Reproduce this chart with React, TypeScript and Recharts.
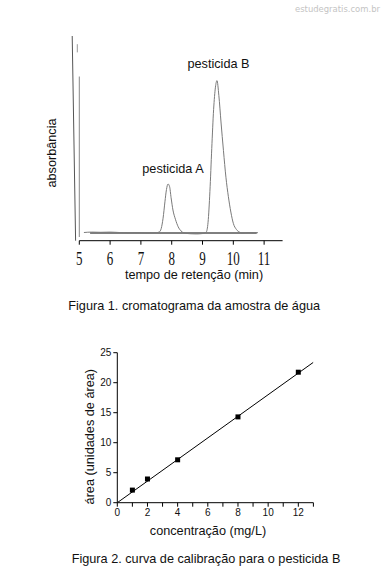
import React from 'react';
import {
  LineChart, Line, XAxis, YAxis, ReferenceLine,
  ScatterChart, Scatter,
} from 'recharts';

// ---- Figure 1: chromatogram ----
const chromTime = [5.15, 5.4, 5.7, 6.0, 6.3, 6.6, 6.9, 7.2, 7.5,
  7.6, 7.66, 7.72, 7.78, 7.83, 7.88, 7.93, 7.98, 8.04, 8.12, 8.21, 8.3, 8.4,
  8.6, 8.8, 9.0,
  9.12, 9.18, 9.24, 9.3, 9.36, 9.42, 9.47, 9.53, 9.6, 9.68, 9.76, 9.84, 9.92, 10.0, 10.1, 10.2, 10.3,
  10.5, 10.8];
const chromAbs = [4.0, 4.2, 4.1, 4.2, 4.0, 3.9, 4.0, 3.8, 3.9,
  4.3, 6, 11, 19, 25, 27.7, 26.5, 21, 15, 10.5, 6.8, 4.8, 3.8,
  3.4, 3.3, 3.5,
  4.2, 9, 24, 45, 64, 75, 78.2, 71, 58, 44, 31, 21.5, 14, 8.5, 5.5, 4.2, 3.8,
  4.0, 3.9];
const timeTicks = [5, 6, 7, 8, 9, 10, 11];
const baselineLevel = 3.76;

// ---- Figure 2: calibration curve ----
const concentrations = [1, 2, 4, 8, 12];
const areas = [2.1, 3.95, 7.15, 14.3, 21.75];
const fitX = [0, 13];
const fitY = [0, 23.4];
const concTicks = [0, 1, 2, 3, 4, 5, 6, 7, 8, 9, 10, 11, 12, 13];
const areaTicks = [0, 5, 10, 15, 20, 25];

const chromData = chromTime.map((t, i) => ({ t, a: chromAbs[i] }));
const calibData = concentrations.map((x, i) => ({ x, y: areas[i] }));
const fitData = fitX.map((x, i) => ({ x, y: fitY[i] }));

const SANS = '"Liberation Sans", Arial, sans-serif';
const SERIF = '"Liberation Serif", "Times New Roman", serif';

const SerifTick = (props: any) => {
  const { x, y, payload } = props;
  return (
    <text
      transform={`translate(${x},${y + 18.5}) scale(1,1.45)`}
      textAnchor="middle"
      fontFamily={SERIF}
      fontSize={13}
      fill="#111"
    >
      {payload.value}
    </text>
  );
};

const EvenTick = (props: any) => {
  const { x, y, payload } = props;
  if (payload.value % 2 !== 0) return <g />;
  return (
    <text x={x} y={y} dy="0.71em" textAnchor="middle" fontFamily={SANS} fontSize={10} fill="#111">
      {payload.value}
    </text>
  );
};

const NoShape = () => <g />;

const SquareShape = (props: any) => {
  const { cx, cy } = props;
  return <rect x={cx - 2.5} y={cy - 2.5} width={5} height={5} fill="#000" />;
};

export default function App() {
  return (
    <div style={{ position: 'absolute', left: 0, top: 0, width: 391, height: 586, background: '#fff' }}>
      <div style={{ position: 'absolute', left: 0, top: 0 }}>
        <LineChart
          width={391}
          height={300}
          data={chromData}
          margin={{ top: 36, right: 108.4, bottom: 19.3, left: 79.3 }}
        >
          <XAxis
            type="number"
            dataKey="t"
            domain={[5, 11.6]}
            ticks={timeTicks}
            interval={0}
            allowDataOverflow
            height={40}
            tickSize={4}
            axisLine={{ stroke: '#000' }}
            tickLine={{ stroke: '#000' }}
            tick={<SerifTick />}
          />
          <YAxis hide type="number" domain={[0, 100]} allowDataOverflow />
          <ReferenceLine
            segment={[{ x: 4.77, y: 100 }, { x: 4.88, y: 0 }]}
            stroke="#555"
            strokeWidth={1}
            ifOverflow="visible"
          />
          <ReferenceLine
            segment={[{ x: 5.0, y: 80.2 }, { x: 5.0, y: 1.8 }]}
            stroke="#888"
            strokeWidth={1}
            ifOverflow="visible"
          />
          <ReferenceLine
            segment={[{ x: 4.935, y: 96 }, { x: 4.935, y: 92 }]}
            stroke="#999"
            strokeWidth={1}
            ifOverflow="visible"
          />
          <ReferenceLine
            segment={[{ x: 5.35, y: baselineLevel }, { x: 10.76, y: baselineLevel }]}
            stroke="#000"
            strokeWidth={1}
          />
          <Line
            type="monotone"
            dataKey="a"
            stroke="#7a7a7a"
            strokeWidth={1}
            dot={false}
            isAnimationActive={false}
          />
        </LineChart>
      </div>

      <div style={{ position: 'absolute', left: 0, top: 330 }}>
        <ScatterChart
          width={391}
          height={230}
          margin={{ top: 22.7, right: 77.6, bottom: 27.3, left: 77.3 }}
        >
          <XAxis
            type="number"
            dataKey="x"
            domain={[0, 13]}
            ticks={concTicks}
            interval={0}
            allowDataOverflow
            height={30}
            tickSize={4}
            axisLine={{ stroke: '#000' }}
            tickLine={{ stroke: '#000' }}
            tick={<EvenTick />}
          />
          <YAxis
            type="number"
            dataKey="y"
            domain={[0, 25]}
            ticks={areaTicks}
            interval={0}
            allowDataOverflow
            width={40}
            tickSize={4}
            axisLine={{ stroke: '#000' }}
            tickLine={{ stroke: '#000' }}
            tick={{ fontFamily: SANS, fontSize: 10, fill: '#111' }}
          />
          <Scatter
            data={fitData}
            line={{ stroke: '#000', strokeWidth: 1 }}
            shape={<NoShape />}
            isAnimationActive={false}
          />
          <Scatter
            data={calibData}
            shape={<SquareShape />}
            fill="#000"
            isAnimationActive={false}
          />
        </ScatterChart>
      </div>

      <svg
        width={391}
        height={586}
        style={{ position: 'absolute', left: 0, top: 0, pointerEvents: 'none' }}
      >
        <text x={295} y={12} fontFamily='"DejaVu Sans", sans-serif' fontSize={9.5} fill="#c4c4c4"
          textLength={85} lengthAdjust="spacingAndGlyphs">estudegratis.com.br</text>

        <g fontFamily={SANS} fontSize={12.7} fill="#111">
          <text x={55.5} y={153} textAnchor="middle" transform="rotate(-90 55.5 153)">absorbância</text>
          <text x={194} y={279} textAnchor="middle">tempo de retenção (min)</text>
          <text x={173} y={173} textAnchor="middle">pesticida A</text>
          <text x={218.5} y={68} textAnchor="middle">pesticida B</text>
          <text x={68.3} y={309.5}>Figura 1. cromatograma da amostra de água</text>

          <text x={94.5} y={436.7} textAnchor="middle" transform="rotate(-90 94.5 436.7)">área (unidades de área)</text>
          <text x={208} y={535} textAnchor="middle">concentração (mg/L)</text>
          <text x={71.7} y={563}>Figura 2. curva de calibração para o pesticida B</text>
        </g>
      </svg>
    </div>
  );
}
